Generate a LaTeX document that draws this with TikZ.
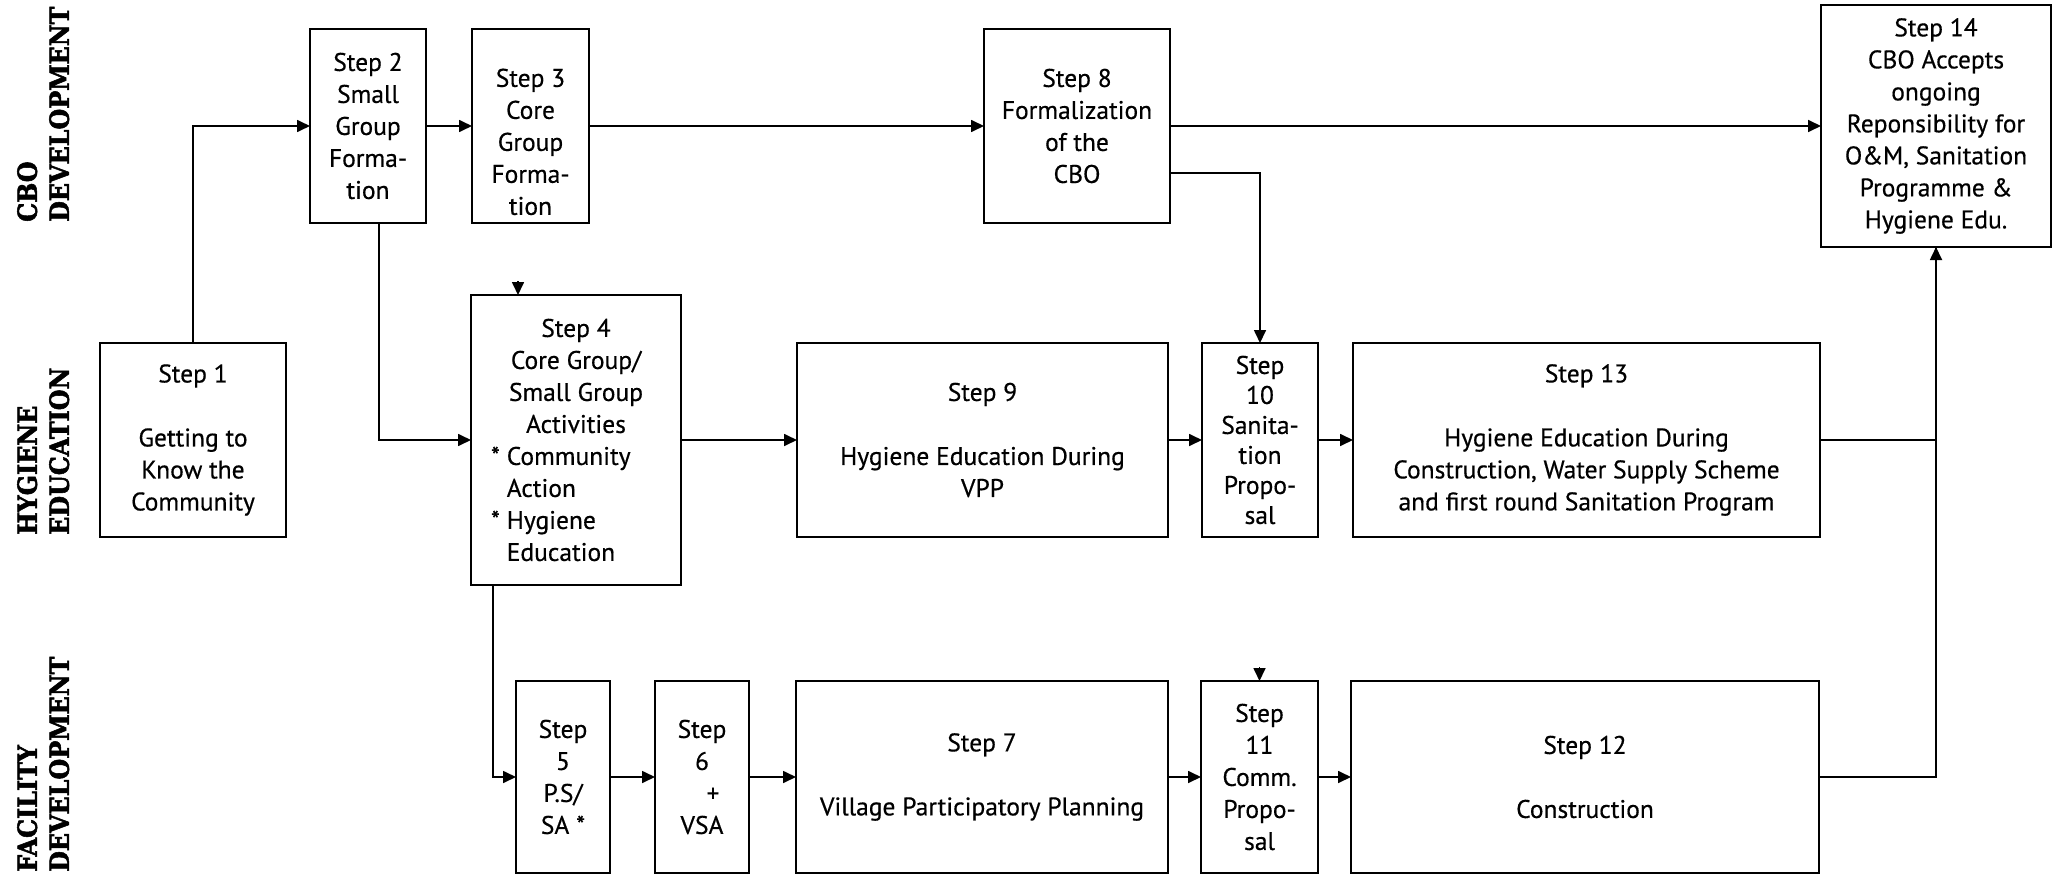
\documentclass[tikz,border=0pt]{standalone}
\usepackage{fontspec}
\setmainfont{PT Sans}[FakeBold=0.5]
\newfontfamily\lanefont{DejaVu Serif Condensed Bold}[FakeBold=2]
\usetikzlibrary{arrows.meta}
% left-aligned line of fixed width, used for the bullet items of step 4
\newcommand\hangline[1]{\makebox[170pt][l]{#1}}

\begin{document}
\begin{tikzpicture}[x=1pt,y=-1pt,
  box/.style={draw, line width=2pt, inner sep=0pt, outer sep=0pt,
    align=center, font=\fontsize{25.5}{32}\selectfont},
  arr/.style={line width=1.7pt, -{Triangle[length=13pt,width=12pt]}},
  link/.style={line width=1.7pt},
  lane/.style={rotate=90, anchor=north west, inner sep=0pt, align=left,
    font=\lanefont\fontsize{26.5}{32}\selectfont}
]
\useasboundingbox (0,0) rectangle (2065,875);

% lane titles
\node[lane] (lcbo) at (17,222) {CBO\\DEVELOPMENT};
\node[lane] (lhyg) at (17,535) {HYGIENE\\EDUCATION};
\node[lane] (lfac) at (17,872) {FACILITY\\DEVELOPMENT};

% CBO development row
\node[box, minimum width=116pt, minimum height=194pt] (s2) at (368,126)
  {Step 2\\Small\\Group\\Forma-\\tion};
\node[box, minimum width=117pt, minimum height=194pt] (s3) at (530.5,126)
  {\rule{0pt}{50pt}Step 3\\Core\\Group\\Forma-\\tion};
\node[box, minimum width=186pt, minimum height=194pt] (s8) at (1077,126)
  {Step 8\\Formalization\\of the\\CBO};
\node[box, minimum width=230pt, minimum height=242pt] (s14) at (1936,126)
  {Step 14\\CBO Accepts\\ongoing\\Reponsibility for\\O\&M, Sanitation\\Programme \&\\Hygiene Edu.};

% hygiene education row
\node[box, minimum width=186pt, minimum height=194pt] (s1) at (193,440)
  {Step 1\\[32pt]Getting to\\Know the\\Community};
\node[box, minimum width=210pt, minimum height=290pt] (s4) at (576,440)
  {Step 4\\Core Group/\\Small Group\\Activities\\
   \hangline{* Community}\\\hangline{\phantom{* }Action}\\
   \hangline{* Hygiene}\\\hangline{\phantom{* }Education}};
\node[box, minimum width=371pt, minimum height=194pt] (s9) at (982.5,440)
  {Step 9\\[32pt]Hygiene Education During\\VPP};
\node[box, minimum width=116pt, minimum height=194pt,
  font=\fontsize{25.5}{30}\selectfont] (s10) at (1260,440)
  {Step\\10\\Sanita-\\tion\\Propo-\\sal};
\node[box, minimum width=467pt, minimum height=194pt] (s13) at (1586.5,440)
  {Step 13\\[32pt]Hygiene Education During\\Construction, Water Supply Scheme\\and first round Sanitation Program};

% facility development row
\node[box, minimum width=94pt, minimum height=192pt] (s5) at (563,777)
  {Step\\5\\P.S/\\SA *};
\node[box, minimum width=94pt, minimum height=192pt] (s6) at (702,777)
  {Step\\6\\\hspace*{22pt}+\\VSA};
\node[box, minimum width=372pt, minimum height=192pt] (s7) at (982,777)
  {Step 7\\[32pt]Village Participatory Planning};
\node[box, minimum width=117pt, minimum height=192pt] (s11) at (1259.5,777)
  {Step\\11\\Comm.\\Propo-\\sal};
\node[box, minimum width=468pt, minimum height=192pt] (s12) at (1585,777)
  {Step 12\\[32pt]Construction};

% connectors
\draw[arr] (s1.north) |- (s2.west);
\draw[arr] (s2.east) -- (s3.west);
\draw[arr] (s3.east) -- (s8.west);
\draw[arr] (s8.east) -- (s14.west);
\draw[arr] ([yshift=-47pt]s8.east) -| (s10.north);
\draw[arr] ([xshift=11pt]s2.south) |- (s4.west);
\draw[arr] (s4.east) -- (s9.west);
\draw[arr] (s9.east) -- (s10.west);
\draw[arr] (s10.east) -- (s13.west);
\draw[arr] (s13.east) -| (s14.south);
\draw[link] (s12.east) -| (s14.south);
\draw[arr] ([xshift=22pt]s4.south west) |- (s5.west);
\draw[arr] (s5.east) -- (s6.west);
\draw[arr] (s6.east) -- (s7.west);
\draw[arr] (s7.east) -- (s11.west);
\draw[arr] (s11.east) -- (s12.west);

% short incoming arrow heads on the top edges
\draw[arr] ([xshift=47pt,yshift=14pt]s4.north west) -- ([xshift=47pt]s4.north west);
\draw[arr] ([yshift=14pt]s11.north) -- (s11.north);
\end{tikzpicture}
\end{document}
